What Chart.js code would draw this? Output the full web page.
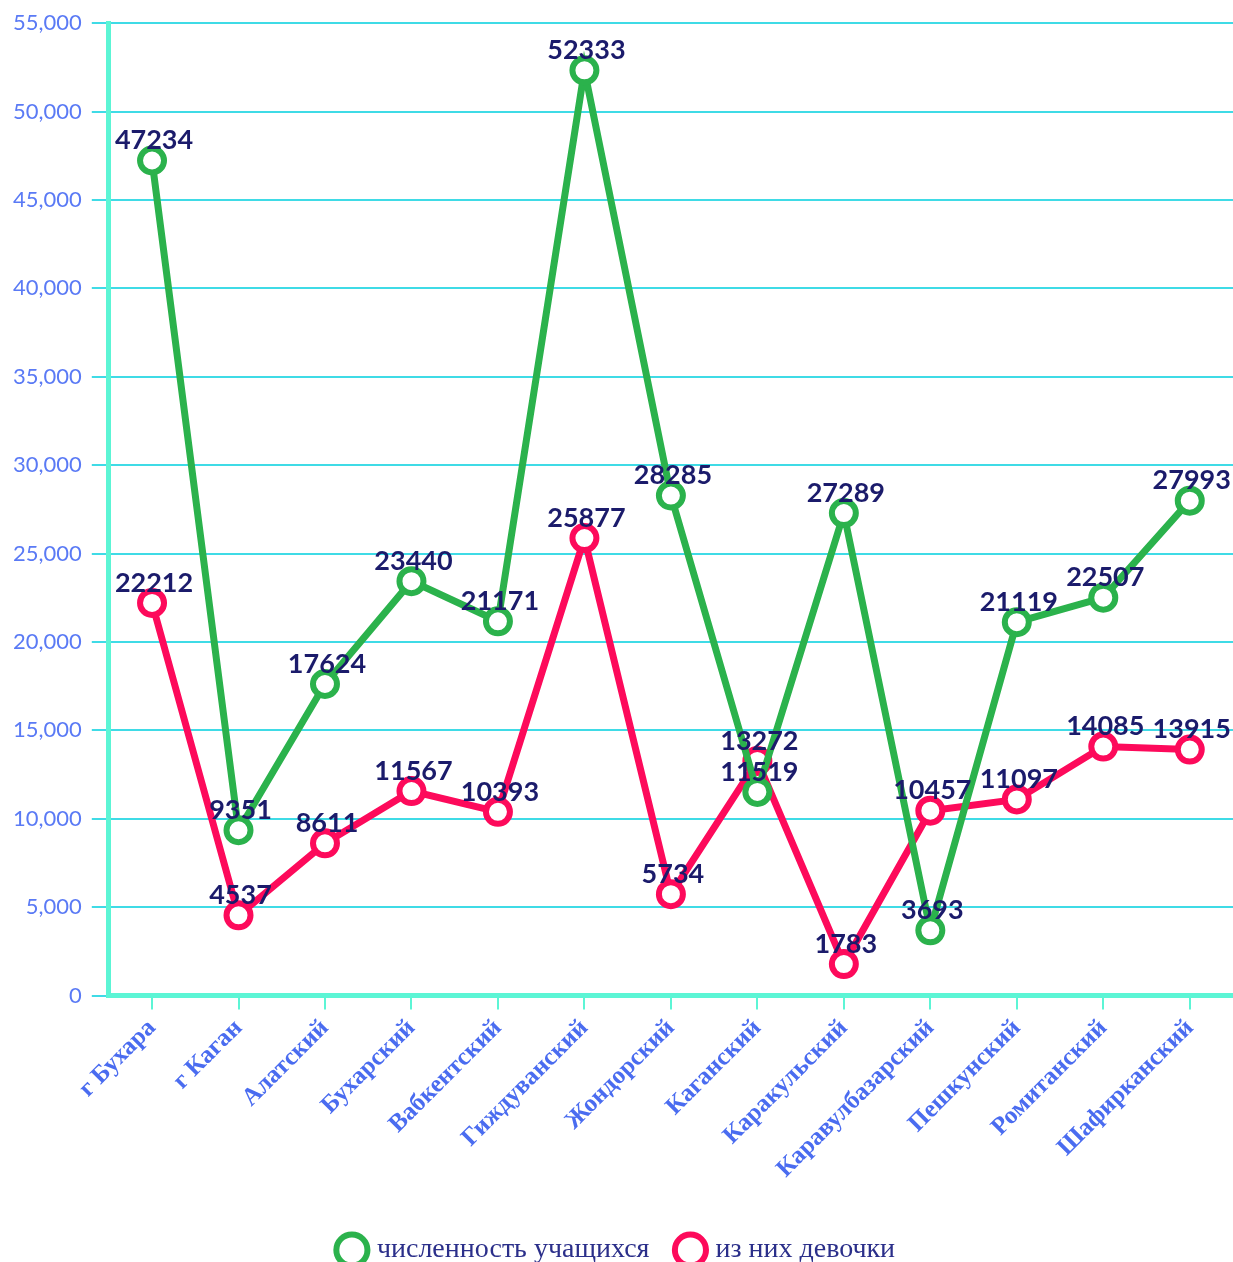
<!DOCTYPE html>
<html>
<head>
<meta charset="utf-8">
<script src="https://cdn.jsdelivr.net/npm/chart.js@4"></script>
<style>
  html, body { margin: 0; padding: 0; background: #fff; }
  #wrap { width: 1233px; height: 1262px; }
</style>
</head>
<body>
<div id="wrap"><canvas id="myChart"></canvas></div>
<script>
const districts = ['г Бухара', 'г Каган', 'Алатский', 'Бухарский', 'Вабкентский', 'Гиждуванский', 'Жондорский',
  'Каганский', 'Каракульский', 'Каравулбазарский', 'Пешкунский', 'Ромитанский', 'Шафирканский'];
const students = [47234, 9351, 17624, 23440, 21171, 52333, 28285, 11519, 27289, 3693, 21119, 22507, 27993];
const girls = [22212, 4537, 8611, 11567, 10393, 25877, 5734, 13272, 1783, 10457, 11097, 14085, 13915];
const seriesNames = ['численность учащихся', 'из них девочки'];

const green = '#2bb24c';
const pink = '#fd0a5b';

// simple value labels above each point
const pointLabels = {
  id: 'pointLabels',
  afterDatasetsDraw(chart) {
    const ctx = chart.ctx;
    ctx.save();
    ctx.font = 'bold 27px Lato';
    ctx.fillStyle = '#1b1b6b';
    ctx.textAlign = 'center';
    ctx.textBaseline = 'middle';
    chart.data.datasets.forEach((ds, i) => {
      chart.getDatasetMeta(i).data.forEach((pt, j) => {
        ctx.fillText(String(ds.data[j]), pt.x + 2, pt.y - 20);
      });
    });
    ctx.restore();
  }
};

function lineSet(name, values, color) {
  return {
    label: name,
    data: values,
    borderColor: color,
    backgroundColor: '#fff',
    borderWidth: 7,
    pointRadius: 12,
    pointBorderWidth: 6,
    pointBackgroundColor: '#fff',
    pointBorderColor: color
  };
}

new Chart('myChart', {
  type: 'line',
  data: {
    labels: districts,
    datasets: [lineSet(seriesNames[0], students, green), lineSet(seriesNames[1], girls, pink)]
  },
  options: {
    responsive: true,
    maintainAspectRatio: false,
    animation: false,
    layout: { autoPadding: false, padding: { top: 14, right: 0, left: 3, bottom: -12 } },
    plugins: {
      tooltip: { enabled: false },
      legend: {
        position: 'bottom',
        labels: {
          usePointStyle: true,
          pointStyle: 'circle',
          boxWidth: 22,
          boxHeight: 22,
          padding: 30,
          color: '#2b2f8a',
          font: { family: 'Liberation Serif', size: 28 }
        }
      }
    },
    scales: {
      x: {
        offset: true,
        afterFit(scale) { scale.paddingRight = 0; scale.height += 18; },
        grid: { drawOnChartArea: false, offset: false, color: '#5cf5d5', tickLength: 14, lineWidth: 2 },
        border: { color: '#5cf5d5', width: 5 },
        ticks: {
          color: '#4a6cf0',
          maxRotation: 45,
          minRotation: 45,
          padding: 4,
          font: { family: 'Liberation Serif', size: 25, weight: 'bold' }
        }
      },
      y: {
        min: 0,
        max: 55000,
        ticks: {
          stepSize: 5000,
          color: '#5a7af5',
          padding: 10,
          font: { family: 'Lato', size: 22 }
        },
        grid: { color: '#3fdbe6', lineWidth: 2, tickLength: 17 },
        border: { color: '#5cf5d5', width: 5 }
      }
    }
  },
  plugins: [pointLabels]
});
</script>
</body>
</html>
